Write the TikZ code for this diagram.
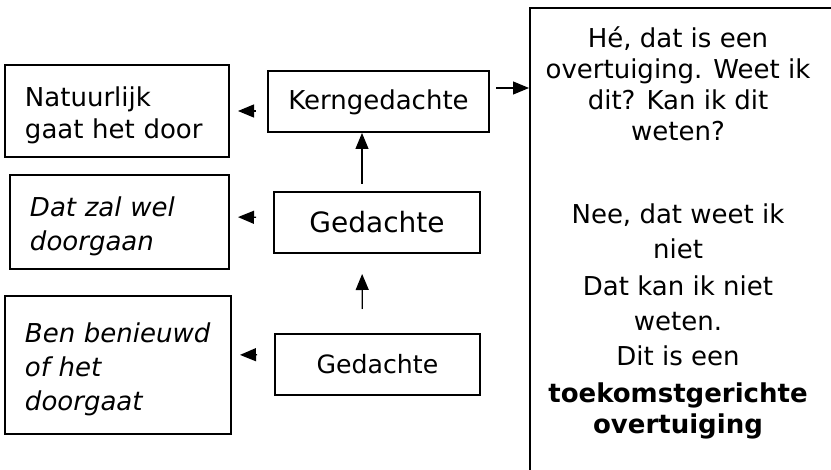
\documentclass[tikz,border=0pt]{standalone}
\usepackage{fontspec}
\setmainfont{DejaVu Sans}
\usetikzlibrary{arrows.meta}
\newcommand{\txtsize}{\fontsize{13}{16}\selectfont}
\newcommand{\itsize}{\fontsize{13}{17}\selectfont\itshape}
\newcommand{\topgap}{\rule{0pt}{14.5pt}}

\begin{document}
\begin{tikzpicture}[x=0.5pt,y=-0.5pt,style=thick,>={Triangle[length=8pt,width=6.5pt]}]
            \useasboundingbox (0,0) rectangle (831,470);
            \clip (0,0) rectangle (831,470);
            \fill[white] (0,0) rectangle (831,470);

            \begin{scope}[line width=1pt]
            \tikzstyle{every node}=[draw,font=\txtsize]
            \tikzstyle{leftbox}=[align=left,inner xsep=10pt]

            \node[leftbox,text width=92pt,minimum height=46pt] (nat) at (117,111) {\topgap Natuurlijk\\gaat het door};
            \node[leftbox,text width=89.5pt,minimum height=47pt,font=\itsize] (zal) at (119.5,222) {\topgap Dat zal wel\\doorgaan};
            \node[leftbox,text width=93pt,minimum height=69pt,font=\itsize] (ben) at (118,365) {\topgap Ben benieuwd\\of het\\doorgaat};

            \node[minimum width=110.5pt,minimum height=30.5pt] (kern) at (378.5,101.5) {\rule{0pt}{11pt}Kerngedachte};
            \node[minimum width=103pt,minimum height=30.5pt,font=\fontsize{14}{17}\selectfont] (ged_a) at (377,222.5) {Gedachte};
            \node[minimum width=102.5pt,minimum height=30.5pt,font=\fontsize{12.6}{15}\selectfont] (ged_b) at (377.5,364.5) {Gedachte};

            \node[minimum width=185.5pt,minimum height=250pt,anchor=north west,inner sep=0pt] (overt) at (529,7) {};
            \node[draw=none,align=center,anchor=north,inner sep=0pt,font=\fontsize{13}{15.5}\selectfont] (overt_txt) at (678,26)
                {H\'e, dat is een\\overtuiging. Weet ik\\dit? Kan ik dit\\weten?\\[26pt]
                 Nee, dat weet ik\\[2pt]niet\\[3pt]Dat kan ik niet\\[2pt]weten.\\[2pt]Dit is een\\[3pt]
                 \textbf{toekomstgerichte}\\\textbf{overtuiging}};
            \end{scope}

            \begin{scope}[line width=0.6pt]
            \coordinate (k_out) at (496,88);

            \draw [->] (k_out) -- (k_out -| overt.west);

            \draw [->,shorten <=5.5pt,shorten >=4pt] (kern.west |- nat.east) -- (nat.east);
            \draw [->,shorten <=8.5pt,shorten >=4pt] ([yshift=2.5pt]ged_a.west) -- ([yshift=2.5pt]zal.east);
            \draw [->,shorten <=8.5pt,shorten >=4pt] ([yshift=5pt]ged_b.west) -- ([yshift=5pt]ben.east);

            \draw [->,shorten <=3.5pt] ([xshift=-7.5pt]ged_a.north) -- ([xshift=-7.5pt]ged_a.north |- kern.south);
            \draw [->,shorten <=12pt,shorten >=10pt] ([xshift=-7.5pt]ged_b.north) -- ([xshift=-7.5pt]ged_a.south);
            \end{scope}
        \end{tikzpicture}
\end{document}
